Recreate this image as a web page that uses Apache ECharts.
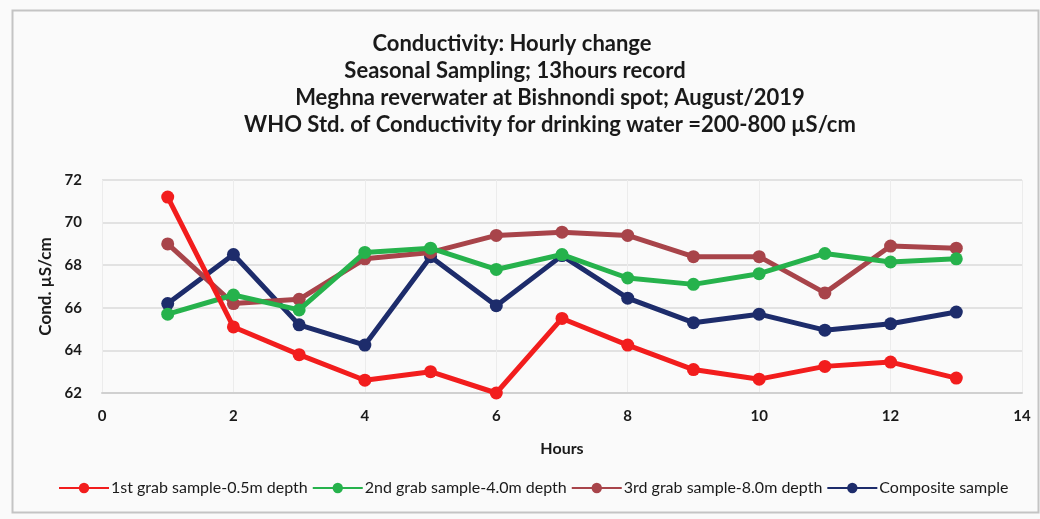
<!DOCTYPE html>
<html>
<head>
<meta charset="utf-8">
<script src="https://cdn.jsdelivr.net/npm/echarts@6/dist/echarts.min.js"></script>
<style>
html,body{margin:0;padding:0;background:#fafafa;}
#chart{width:1040px;height:519px;}
</style>
</head>
<body>
<div id="chart"></div>
<script>
const hours = [1,2,3,4,5,6,7,8,9,10,11,12,13];
const grab1 = [71.2,65.1,63.8,62.6,63.0,62.0,65.5,64.25,63.1,62.65,63.25,63.45,62.7];
const grab2 = [65.7,66.6,65.9,68.6,68.8,67.8,68.5,67.4,67.1,67.6,68.55,68.15,68.3];
const grab3 = [69.0,66.2,66.4,68.3,68.6,69.4,69.55,69.4,68.4,68.4,66.7,68.9,68.8];
const composite = [66.2,68.5,65.2,64.25,68.4,66.1,68.45,66.45,65.3,65.7,64.95,65.25,65.8];
const seriesNames = ['1st grab sample-0.5m depth','2nd grab sample-4.0m depth','3rd grab sample-8.0m depth','Composite sample'];
const seriesColors = ['#f21d1d','#26b24c','#a8444a','#1d2c6b'];
const titleLines = ['Conductivity: Hourly change','Seasonal Sampling; 13hours record','Meghna reverwater at Bishnondi spot; August/2019','WHO Std. of Conductivity for drinking water =200-800 µS/cm'];
const titleCenters = [512, 515, 550, 550];

const font = 'Lato, "Noto Sans", sans-serif';
const values = [grab1, grab2, grab3, composite];
const chart = echarts.init(document.getElementById('chart'));
chart.setOption({
  backgroundColor: '#fafafa',
  animation: false,
  title: titleLines.map((t, i) => ({
    text: t,
    left: titleCenters[i],
    top: 33 + i * 27,
    textAlign: 'center',
    padding: 0,
    textStyle: {fontFamily: font, fontSize: 22, fontWeight: 'bold', color: '#1a1a1a'}
  })),
  graphic: {
    elements: [{
      type: 'rect', left: 10, top: 8, z: 100,
      shape: {width: 1026, height: 502},
      style: {fill: null, stroke: '#c4c4c4', lineWidth: 2}, silent: true
    }]
  },
  legend: {
    top: 480,
    left: 58,
    width: 1000,
    padding: 0,
    itemWidth: 50,
    itemHeight: 13,
    itemGap: 4,
    textStyle: {fontFamily: font, fontSize: 16, color: '#1a1a1a', padding: [0, 0, 0, -3]},
    data: seriesNames
  },
  grid: {left: 102, right: 18, top: 180, bottom: 126, containLabel: false},
  xAxis: {
    type: 'value', min: 0, max: 14, interval: 2,
    name: 'Hours', nameLocation: 'middle', nameGap: 48,
    nameTextStyle: {fontFamily: font, fontSize: 16, fontWeight: 'bold', color: '#1a1a1a'},
    axisLine: {show: true, lineStyle: {color: '#d0d0d0', width: 2}},
    axisTick: {show: false},
    axisLabel: {fontFamily: font, fontSize: 15, fontWeight: 'bold', color: '#1a1a1a', margin: 16},
    splitLine: {show: true, lineStyle: {color: '#ececec', width: 1}}
  },
  yAxis: {
    type: 'value', min: 62, max: 72, interval: 2,
    name: 'Cond. µS/cm', nameLocation: 'middle', nameGap: 46, nameRotate: 90,
    nameTextStyle: {fontFamily: font, fontSize: 17, fontWeight: 'bold', color: '#1a1a1a'},
    axisLine: {show: false},
    axisTick: {show: false},
    axisLabel: {fontFamily: font, fontSize: 15, fontWeight: 'bold', color: '#1a1a1a', margin: 20},
    splitLine: {show: true, lineStyle: {color: '#dadada', width: 1.5}}
  },
  series: seriesNames.map((n, i) => ({
    name: n,
    type: 'line',
    data: hours.map((h, k) => [h, values[i][k]]),
    symbol: 'circle',
    symbolSize: 13,
    lineStyle: {width: 5, color: seriesColors[i]},
    itemStyle: {color: seriesColors[i]},
    z: 10 - i
  }))
});
</script>
</body>
</html>
